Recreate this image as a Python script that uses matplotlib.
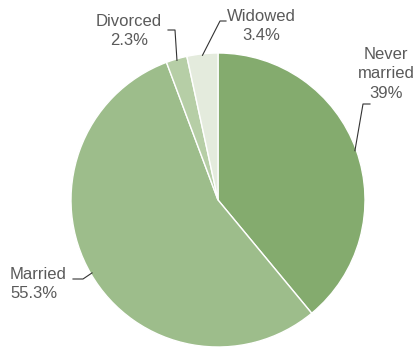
import numpy as np
import matplotlib
matplotlib.use("Agg")
import matplotlib.pyplot as plt

labels = ["Never\nmarried", "Married", "Divorced", "Widowed"]
values = [39.0, 55.3, 2.3, 3.4]
pct_text = ["39%", "55.3%", "2.3%", "3.4%"]
colors = ["#84ab6e", "#9dbd8b", "#b6cea6", "#e4ebdd"]

plt.rcParams['font.family'] = ['Liberation Sans', 'DejaVu Sans']

W, H = 414, 349
fig = plt.figure(figsize=(W / 100, H / 100), dpi=100)
ax = fig.add_axes([0, 0, 1, 1])

cx, cy, r = 218, H - 200, 147
wedges, _ = ax.pie(values, colors=colors, startangle=90, counterclock=False,
                   center=(cx, cy), radius=r, frame=True,
                   wedgeprops=dict(edgecolor='white', linewidth=1))
ax.set_xlim(0, W)
ax.set_ylim(0, H)
ax.set_aspect('equal')
ax.axis('off')

# label text position (pixels from top-left), alignment, leader elbow
label_pos = [(386, 74, 'center'), (10, 284, 'left'), (129, 31, 'center'), (261, 26, 'center')]
elbows = [((363, 104), (370, 104)), ((83, 279), (73, 279)),
          ((175, 30), (168, 30)), ((220, 21), (226, 21))]

tc = '#5a5a5a'
for i, w in enumerate(wedges):
    mid = np.deg2rad((w.theta1 + w.theta2) / 2)
    ex, ey = cx + r * 0.99 * np.cos(mid), cy + r * 0.99 * np.sin(mid)
    (bx, by), (tx, ty) = elbows[i]
    ax.plot([ex, bx, tx], [ey, H - by, H - ty], color='#333333', lw=0.8)
    x, y, ha = label_pos[i]
    ax.text(x, H - y, labels[i] + "\n" + pct_text[i], ha=ha, va='center',
            fontsize=12, color=tc, linespacing=1.4,
            multialignment='center' if ha == 'center' else 'left')

fig.savefig("out.png", dpi=100)
